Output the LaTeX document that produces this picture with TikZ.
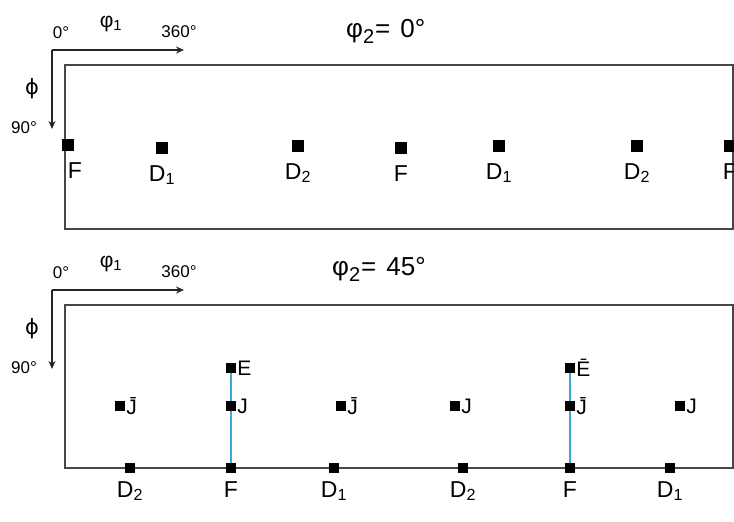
\documentclass[tikz,border=0pt]{standalone}
\usepackage{fontspec}
\setmainfont{Liberation Sans}
\newfontfamily\symfont{DejaVu Sans}
\usetikzlibrary{arrows.meta}
\definecolor{linkblue}{RGB}{60,170,215}
\newcommand{\phitwo}{φ\raisebox{-0.45ex}{\fontsize{20}{20}\selectfont 2}\hspace{1pt}=\hspace{10pt}}
\tikzset{
  frame/.style={draw=black!72, line width=2.8pt},
  axis/.style={draw=black!85, line width=1.8pt, -{Stealth[length=8pt,width=7pt]}},
  mk/.style={fill=black, inner sep=0pt, minimum size=12pt},
  smk/.style={fill=black, inner sep=0pt, minimum size=10pt},
  lbl/.style={font=\fontsize{23}{23}\selectfont, inner sep=1pt, label distance=7pt},
  tlbl/.style={lbl, label distance=10pt},
  ilbl/.style={font=\fontsize{21}{21}\selectfont, inner sep=1pt, label distance=0pt},
  tiny/.style={font=\fontsize{17}{17}\selectfont, inner sep=0pt},
  greek/.style={font=\fontsize{21}{21}\selectfont, inner sep=0pt},
  ttl/.style={font=\fontsize{26}{26}\selectfont, inner sep=0pt, anchor=base west},
  link/.style={draw=linkblue, line width=2.6pt}
}
\begin{document}
\begin{tikzpicture}[x=1pt, y=-1pt]
  \useasboundingbox (0,0) rectangle (734,522);
  % phi_2 = 0 section
  \coordinate (oa) at (52,50);
  \draw[axis] (oa) -- ++(132,0);
  \draw[axis] (oa) -- ++(0,79);
  \node[tiny] (za) at (61,33) {0°};
  \node[greek] (pa) at (111,24) {φ\textsubscript{1}};
  \node[tiny] (ra) at (179,32) {360°};
  \node[greek] (fa) at (32,89) {\symfont ϕ};
  \node[tiny] (na) at (24,128) {90°};
  \node[ttl] (ta) at (346,37) {\phitwo 0°};
  \draw[frame] (65,65) rectangle (733,229);
  \node[mk, label={[tlbl,xshift=7pt]below:F}] (a1) at (68,145) {};
  \node[mk, label={[tlbl]below:D\textsubscript{1}}] (a2) at (162,148) {};
  \node[mk, label={[tlbl]below:D\textsubscript{2}}] (a3) at (298,146) {};
  \node[mk, label={[tlbl]below:F}] (a4) at (401,148) {};
  \node[mk, label={[tlbl]below:D\textsubscript{1}}] (a5) at (499,146) {};
  \node[mk, label={[tlbl]below:D\textsubscript{2}}] (a6) at (637,146) {};
  \node[mk, label={[tlbl]below:F}] (a7) at (730,146) {};
  % phi_2 = 45 section
  \coordinate (ob) at (52,290);
  \draw[axis] (ob) -- ++(132,0);
  \draw[axis] (ob) -- ++(0,79);
  \node[tiny] (zb) at (61,273) {0°};
  \node[greek] (pb) at (111,264) {φ\textsubscript{1}};
  \node[tiny] (rb) at (179,272) {360°};
  \node[greek] (fb) at (32,329) {\symfont ϕ};
  \node[tiny] (nb) at (24,368) {90°};
  \node[ttl] (tb) at (332,275) {\phitwo 45°};
  \draw[frame] (65,305) rectangle (733,468);
  \coordinate (e1) at (231,368);
  \coordinate (j1) at (231,406);
  \coordinate (f1) at (231,468);
  \coordinate (e2) at (570,368);
  \coordinate (j2) at (570,406);
  \coordinate (f2) at (570,468);
  \draw[link] (e1) -- (j1) -- (f1);
  \draw[link] (e2) -- (j2) -- (f2);
  \node[smk, label={[ilbl]right:E}] (ne1) at (e1) {};
  \node[smk, label={[ilbl]right:J}] (nj1) at (j1) {};
  \node[smk, label={[lbl]below:F}] (nf1) at (f1) {};
  \node[smk, label={[ilbl]right:\=E}] (ne2) at (e2) {};
  \node[smk, label={[ilbl]right:\=J}] (nj2) at (j2) {};
  \node[smk, label={[lbl]below:F}] (nf2) at (f2) {};
  \node[smk, label={[ilbl]right:\=J}] (b1) at (120,406) {};
  \node[smk, label={[ilbl]right:\=J}] (b2) at (341,406) {};
  \node[smk, label={[ilbl]right:J}] (b3) at (455,406) {};
  \node[smk, label={[ilbl]right:J}] (b4) at (680,406) {};
  \node[smk, label={[lbl]below:D\textsubscript{2}}] (c1) at (130,468) {};
  \node[smk, label={[lbl]below:D\textsubscript{1}}] (c2) at (334,468) {};
  \node[smk, label={[lbl]below:D\textsubscript{2}}] (c3) at (463,468) {};
  \node[smk, label={[lbl]below:D\textsubscript{1}}] (c4) at (670,468) {};
\end{tikzpicture}
\end{document}
